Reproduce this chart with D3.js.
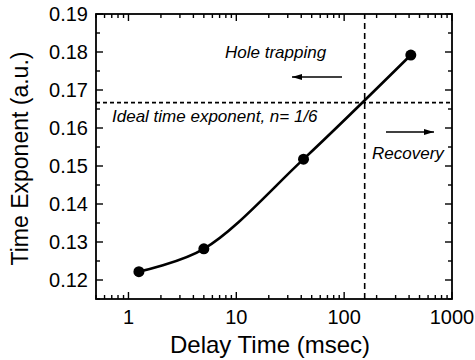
<!DOCTYPE html>
<html>
<head>
<meta charset="utf-8">
<script src="https://cdn.jsdelivr.net/npm/d3@7"></script>
<style>
  html, body { margin: 0; padding: 0; background: #fff; }
  svg { display: block; font-family: "Liberation Sans", Arial, sans-serif; }
</style>
</head>
<body>
<svg id="chart" width="475" height="360"></svg>
<script>
// Measured time exponent versus delay time
const delayTimes = [1.25, 5, 42, 415];
const timeExponents = [0.1222, 0.1282, 0.1518, 0.1792];

const xTickValues = [1, 10, 100, 1000];
const xTickLabels = ["1", "10", "100", "1000"];
const yTickValues = [0.12, 0.13, 0.14, 0.15, 0.16, 0.17, 0.18, 0.19];
const yTickLabels = ["0.12", "0.13", "0.14", "0.15", "0.16", "0.17", "0.18", "0.19"];

const idealExponent = 1 / 6;
const crossoverDelay = 155;

const annotations = [
  { text: "Hole trapping", x: 225, y: 58 },
  { text: "Ideal time exponent, n= 1/6", x: 112, y: 122 },
  { text: "Recovery", x: 372, y: 159 }
];

const margin = { left: 96, right: 23, top: 14, bottom: 61 };
const W = 475, H = 360;
const svg = d3.select("#chart");

const x = d3.scaleLog().domain([0.5, 1000]).range([margin.left, W - margin.right]);
const y = d3.scaleLinear().domain([0.115, 0.19]).range([H - margin.bottom, margin.top]);

const x0 = x.range()[0], x1 = x.range()[1];
const y0 = y.range()[0], y1 = y.range()[1];

// minor tick positions
const xMinor = [];
for (let d = 0.1; d <= 100; d *= 10) {
  for (let k = 1; k <= 9; k++) {
    const v = d * k;
    if (v >= 0.5 && v <= 1000 && !xTickValues.includes(Math.round(v * 1000) / 1000)) xMinor.push(v);
  }
}
const yMinor = d3.range(0.115, 0.19, 0.01).map(v => +v.toFixed(3));

const g = svg.append("g");

// dashed reference lines
g.append("line")
  .attr("x1", x0).attr("x2", x1)
  .attr("y1", y(idealExponent)).attr("y2", y(idealExponent))
  .attr("stroke", "#000").attr("stroke-width", 1.6)
  .attr("stroke-dasharray", "4,3");
g.append("line")
  .attr("x1", x(crossoverDelay)).attr("x2", x(crossoverDelay))
  .attr("y1", y0).attr("y2", y1)
  .attr("stroke", "#000").attr("stroke-width", 1.6)
  .attr("stroke-dasharray", "6,4");

// ticks, pointing inward on all four sides
const tickG = g.append("g").attr("stroke", "#000").attr("stroke-width", 1.4);
const major = 7, minor = 4;
xTickValues.forEach(v => {
  tickG.append("line").attr("x1", x(v)).attr("x2", x(v)).attr("y1", y0).attr("y2", y0 - major);
  tickG.append("line").attr("x1", x(v)).attr("x2", x(v)).attr("y1", y1).attr("y2", y1 + major);
});
xMinor.forEach(v => {
  tickG.append("line").attr("x1", x(v)).attr("x2", x(v)).attr("y1", y0).attr("y2", y0 - minor);
  tickG.append("line").attr("x1", x(v)).attr("x2", x(v)).attr("y1", y1).attr("y2", y1 + minor);
});
yTickValues.forEach(v => {
  tickG.append("line").attr("x1", x0).attr("x2", x0 + major).attr("y1", y(v)).attr("y2", y(v));
  tickG.append("line").attr("x1", x1).attr("x2", x1 - major).attr("y1", y(v)).attr("y2", y(v));
});
yMinor.forEach(v => {
  tickG.append("line").attr("x1", x0).attr("x2", x0 + minor).attr("y1", y(v)).attr("y2", y(v));
  tickG.append("line").attr("x1", x1).attr("x2", x1 - minor).attr("y1", y(v)).attr("y2", y(v));
});

// frame
g.append("rect")
  .attr("x", x0).attr("y", y1)
  .attr("width", x1 - x0).attr("height", y0 - y1)
  .attr("fill", "none").attr("stroke", "#000").attr("stroke-width", 1.8);

// tick labels
g.selectAll(".xl").data(xTickValues).enter().append("text")
  .attr("x", d => x(d)).attr("y", y0 + 25)
  .attr("text-anchor", "middle").attr("font-size", 20)
  .text((d, i) => xTickLabels[i]);
g.selectAll(".yl").data(yTickValues).enter().append("text")
  .attr("x", x0 - 8).attr("y", d => y(d) + 7)
  .attr("text-anchor", "end").attr("font-size", 20)
  .text((d, i) => yTickLabels[i]);

// axis titles
g.append("text")
  .attr("x", (x0 + x1) / 2 - 4).attr("y", 353)
  .attr("text-anchor", "middle").attr("font-size", 24)
  .text("Delay Time (msec)");
g.append("text")
  .attr("transform", `translate(28,${(y0 + y1) / 2 + 2}) rotate(-90)`)
  .attr("text-anchor", "middle").attr("font-size", 23)
  .text("Time Exponent (a.u.)");

// smooth curve through the measurements
const pts = delayTimes.map((d, i) => [x(d), y(timeExponents[i])]);
g.append("path")
  .attr("d", d3.line().curve(d3.curveCatmullRom.alpha(0.5))(pts))
  .attr("fill", "none").attr("stroke", "#000").attr("stroke-width", 2.6);

g.selectAll(".pt").data(delayTimes).enter().append("circle")
  .attr("cx", d => x(d)).attr("cy", (d, i) => y(timeExponents[i]))
  .attr("r", 5.5).attr("fill", "#000");

// annotations
g.selectAll(".ann").data(annotations).enter().append("text")
  .attr("x", d => d.x).attr("y", d => d.y)
  .attr("font-size", 17).attr("font-style", "italic")
  .text(d => d.text);

// arrows
const defs = svg.append("defs");
defs.append("marker")
  .attr("id", "ah").attr("viewBox", "0 0 10 6")
  .attr("refX", 10).attr("refY", 3)
  .attr("markerWidth", 10).attr("markerHeight", 6)
  .attr("markerUnits", "userSpaceOnUse")
  .attr("orient", "auto")
  .append("path").attr("d", "M0,0 L10,3 L0,6 Z").attr("fill", "#000");

[[342, 77, 292, 77], [386, 132, 434, 132]].forEach(a => {
  g.append("line")
    .attr("x1", a[0]).attr("y1", a[1]).attr("x2", a[2]).attr("y2", a[3])
    .attr("stroke", "#000").attr("stroke-width", 1.6)
    .attr("marker-end", "url(#ah)");
});
</script>
</body>
</html>
